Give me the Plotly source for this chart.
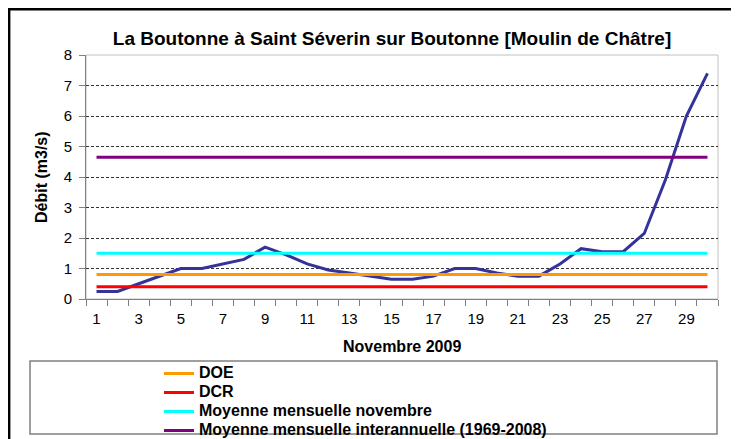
import plotly.graph_objects as go

# ---- data ----
days = list(range(1, 31))
debit = [0.25, 0.25, 0.5, 0.75, 1.0, 1.0, 1.15, 1.3, 1.7, 1.45,
         1.15, 0.95, 0.85, 0.75, 0.65, 0.65, 0.75, 1.0, 1.0, 0.85,
         0.75, 0.75, 1.15, 1.65, 1.55, 1.55, 2.15, 3.9, 6.0, 7.4]
ref_names = ["DOE", "DCR", "Moyenne mensuelle novembre",
             "Moyenne mensuelle interannuelle (1969-2008)"]
ref_values = [0.8, 0.4, 1.5, 4.65]
ref_colors = ["#FF9900", "#FF0000", "#00FFFF", "#800080"]
x_tick_labels = list(range(1, 31, 2))
y_tick_labels = list(range(0, 9))

title = "La Boutonne à Saint Séverin sur Boutonne [Moulin de Châtre]"
x_title = "Novembre 2009"
y_title = "Débit (m3/s)"

# page body has an 8px margin: figure pixel (0,0) lands at screen (8,8)
OFF = 8
W, H = 731, 431
ML, MT = 86 - OFF, 55 - OFF
MR = W - (718 - OFF)
MB = H - (299 - OFF)
PW, PH = W - ML - MR, H - MT - MB

def px_x(p):  # screen pixel -> paper x
    return (p - OFF - ML) / PW

def px_y(p):  # screen pixel -> paper y
    return (H - MB - (p - OFF)) / PH

FONT = "Liberation Sans, Arial, sans-serif"

fig = go.Figure()
fig.add_trace(go.Scatter(x=days, y=debit, mode="lines",
                         line=dict(color="#333399", width=3),
                         showlegend=False, hoverinfo="x+y"))
for name, val, col in zip(ref_names, ref_values, ref_colors):
    fig.add_trace(go.Scatter(
        x=days, y=[val] * len(days), mode="lines",
        name='<span style="font-size:16px"><b>' + name + '</b></span>',
        line=dict(color=col, width=3)))

fig.update_layout(
    width=W, height=H,
    margin=dict(l=ML, r=MR, t=MT, b=MB, autoexpand=False),
    paper_bgcolor="white", plot_bgcolor="white",
    font=dict(family=FONT, color="black", size=15),
    title=dict(text="<b>" + title + "</b>", x=(392 - OFF) / W,
               xref="container", xanchor="center",
               y=1 - (38 - OFF) / H, yref="container", yanchor="middle",
               font=dict(size=19, family=FONT)),
    showlegend=True,
    legend=dict(x=px_x(159), y=px_y(359), xanchor="left", yanchor="top",
                bgcolor="rgba(0,0,0,0)", borderwidth=0,
                font=dict(size=12, family=FONT, color="black"),
                tracegroupgap=0),
    xaxis=dict(range=[0.5, 30.5], tickmode="array", tickvals=x_tick_labels,
               ticktext=[str(v) for v in x_tick_labels],
               ticks="outside", ticklen=6, tickcolor="rgba(0,0,0,0)",
               showgrid=False, zeroline=False, showline=True,
               linecolor="#808080", linewidth=1,
               ticklabelstandoff=0, tickfont=dict(size=15),
               minor=dict(tickmode="linear", tick0=0.5, dtick=1,
                          ticks="outside", ticklen=6, tickcolor="#808080",
                          tickwidth=1, showgrid=False)),
    yaxis=dict(range=[0, 8], tickmode="array", tickvals=y_tick_labels,
               ticks="outside", ticklen=6, tickcolor="#808080",
               showgrid=True, gridcolor="#333333", griddash="3px,2px",
               gridwidth=1, zeroline=False, showline=True,
               linecolor="#808080", linewidth=1, ticklabelstandoff=4,
               tickfont=dict(size=15)),
    annotations=[
        dict(text="<b>" + y_title + "</b>", xref="paper", yref="paper",
             x=px_x(41), y=0.5, textangle=-90, showarrow=False,
             xanchor="center", yanchor="middle",
             font=dict(size=16, family=FONT)),
        dict(text="<b>" + x_title + "</b>", xref="paper", yref="paper",
             x=0.5, y=px_y(346), showarrow=False, xanchor="center",
             yanchor="middle", font=dict(size=16, family=FONT)),
    ],
    shapes=[
        dict(type="rect", xref="paper", yref="paper", x0=0, y0=0, x1=1, y1=1,
             line=dict(color="#C0C0C0", width=1), layer="below"),
        dict(type="rect", xref="paper", yref="paper",
             x0=px_x(30), x1=px_x(717), y0=px_y(434), y1=px_y(361),
             line=dict(color="#808080", width=1.5), layer="below"),
        # outer chart frame (top and left edges visible in the crop)
        dict(type="line", xref="paper", yref="paper",
             x0=px_x(9.2), x1=px_x(9.2), y0=px_y(460), y1=px_y(8),
             line=dict(color="black", width=2.4), layer="below"),
        dict(type="line", xref="paper", yref="paper",
             x0=px_x(8), x1=px_x(760), y0=px_y(9.2), y1=px_y(9.2),
             line=dict(color="black", width=2.4), layer="below"),
    ],
)

fig.write_html("out.html")
